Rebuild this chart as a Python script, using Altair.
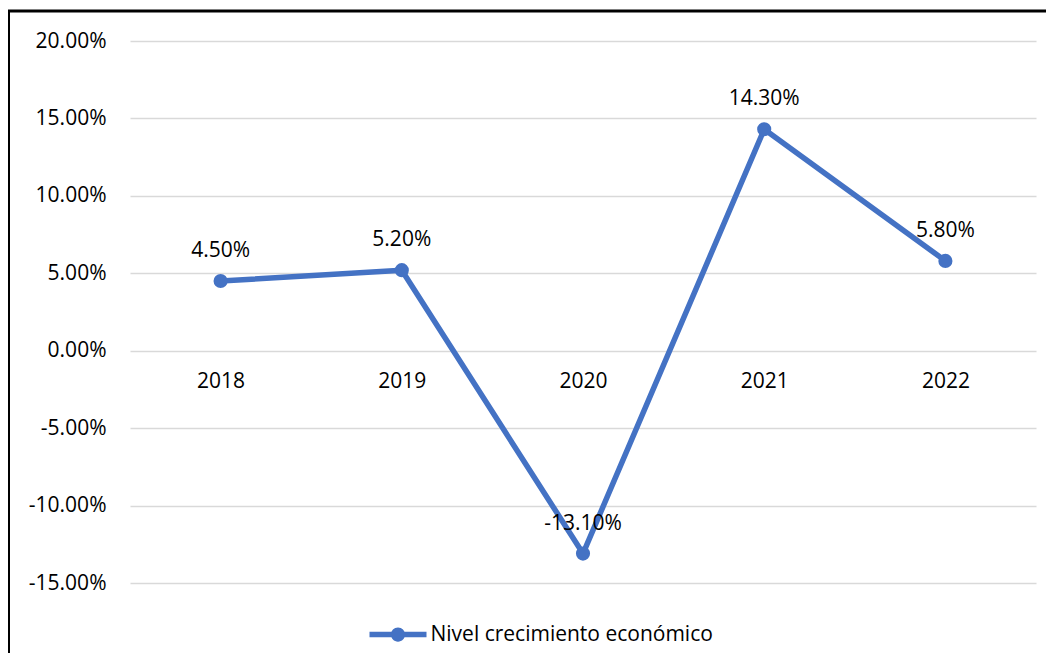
import altair as alt
import pandas as pd

years = ["2018", "2019", "2020", "2021", "2022"]
growth = [0.045, 0.052, -0.131, 0.143, 0.058]
growth_labels = ["4.50%", "5.20%", "-13.10%", "14.30%", "5.80%"]
y_ticks = [-0.15, -0.10, -0.05, 0.0, 0.05, 0.10, 0.15, 0.20]
series_name = "Nivel crecimiento económico"

df = pd.DataFrame({"year": years, "value": growth, "label": growth_labels,
                   "serie": [series_name] * len(years)})

BLUE = "#4472C4"
FONT = "Open Sans"
FS = 21

x_enc = alt.X("year:O", sort=years,
              scale=alt.Scale(type="point", padding=0.5),
              axis=alt.Axis(title=None, labelAngle=0, domain=False, ticks=False,
                            grid=False, labelFontSize=FS, labelFont=FONT,
                            labelColor="#000000", labelPadding=18, offset=-231))
y_enc = alt.Y("value:Q",
              scale=alt.Scale(domain=[-0.15, 0.20], nice=False, zero=False),
              axis=alt.Axis(title=None, values=y_ticks, format=".2%",
                            labelExpr="replace(format(datum.value, '.2%'), '\u2212', '-')",
                            domain=False,
                            ticks=False, grid=True, gridColor="#d9d9d9", gridWidth=1.5,
                            labelFontSize=FS, labelFont=FONT, labelColor="#000000",
                            labelPadding=24))

base = alt.Chart(df)

line = base.mark_line(color=BLUE, strokeWidth=5.5, strokeCap="round",
                      strokeJoin="round").encode(x=x_enc, y=y_enc)

legend_path = ("M-1,-0.1 L-0.2,-0.1 L-0.2,0.1 L-1,0.1 Z "
               "M0.2,-0.1 L1,-0.1 L1,0.1 L0.2,0.1 Z "
               "M0.25,0 A0.25,0.25 0 1,1 -0.25,0 A0.25,0.25 0 1,1 0.25,0 Z")

points = base.mark_point(filled=True, size=200, opacity=1).encode(
    x=x_enc, y=y_enc,
    color=alt.Color("serie:N", scale=alt.Scale(range=[BLUE]),
                    legend=alt.Legend(title=None, orient="none",
                                      legendX=239.5, legendY=565,
                                      symbolType=legend_path, symbolSize=3249,
                                      symbolStrokeWidth=0, symbolOpacity=1,
                                      labelFont=FONT, labelFontSize=FS,
                                      labelColor="#000000", labelOffset=4,
                                      labelLimit=600, padding=0)))

labels = base.mark_text(font=FONT, fontSize=FS, color="#000000",
                        baseline="alphabetic", dy=-24).encode(
    x=x_enc, y=y_enc, text="label:N")

border = alt.Chart(pd.DataFrame({"a": [0]})).mark_rect(
    filled=False, stroke="#000000", strokeWidth=3).encode(
    x=alt.value(-121.5), x2=alt.value(1300), y=alt.value(-30), y2=alt.value(900))

chart = alt.layer(line, points, labels, border).properties(
    width=906, height=542,
    padding={"left": 122, "top": 33, "right": 10, "bottom": 70},
    autosize=alt.AutoSizeParams(type="none"),
    background="white",
).configure_view(stroke=None)

chart.save("out.html", embed_options={"renderer": "svg", "actions": False})
